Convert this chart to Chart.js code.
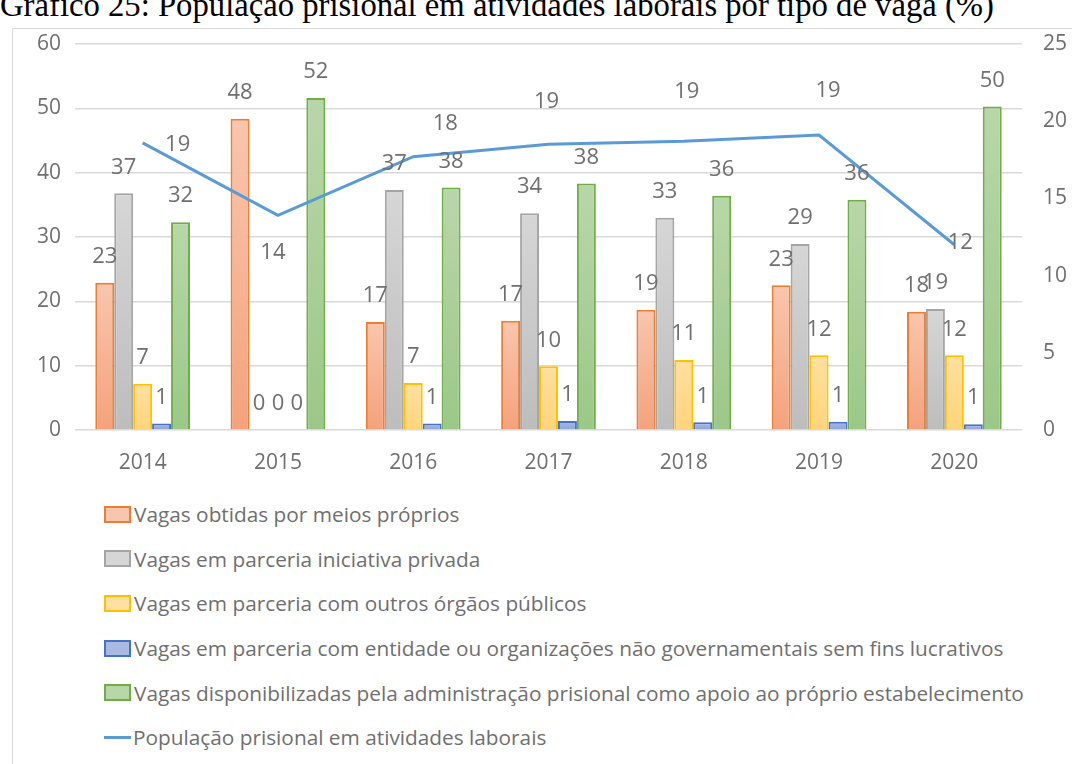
<!DOCTYPE html>
<html lang="pt">
<head>
<meta charset="utf-8">
<title>Gráfico 25</title>
<script src="https://cdn.jsdelivr.net/npm/chart.js@4/dist/chart.umd.min.js"></script>
<style>
    html, body { margin: 0; padding: 0; background: #fff; overflow: hidden; width: 1072px; height: 764px; }
    #title {
        position: absolute; left: 0; top: -11px; white-space: nowrap;
        font: 32.7px 'Liberation Serif', 'Times New Roman', serif; line-height: 32px; color: #000;
    }
    #frame {
        position: absolute; left: 12px; top: 28px; width: 1100px; height: 800px;
        border: 1px solid #d9d9d9; box-sizing: border-box;
    }
    #chart-wrap { position: absolute; left: 0; top: 0; width: 1059px; height: 455px; }
    #legend { position: absolute; left: 91px; top: 463px; font: 20.8px 'Open Sans', sans-serif; color: #6f6f6f; }
    .legend-item { display: flex; align-items: center; height: 44.6px; white-space: nowrap; }
    .legend-box { width: 23px; height: 13px; margin-right: 3px; box-sizing: content-box; }
    .legend-line { width: 27px; height: 3px; margin-right: 2px; }
</style>
</head>
<body>
<div id="title">Gráfico 25: População prisional em atividades laborais por tipo de vaga (%)</div>
<div id="frame">
    <div id="chart-wrap"><canvas id="chart" width="1059" height="455"></canvas></div>
    <div id="legend"></div>
</div>
<script>
// Data
const years = ['2014', '2015', '2016', '2017', '2018', '2019', '2020'];
const meiosProprios = [22.9, 48.4, 16.8, 17.0, 18.7, 22.5, 18.4];
const iniciativaPrivada = [36.8, 0, 37.3, 33.7, 33.0, 28.9, 18.8];
const orgaosPublicos = [7.2, 0, 7.3, 9.9, 10.9, 11.6, 11.6];
const entidadesSemFins = [1.0, 0, 1.0, 1.4, 1.2, 1.3, 0.9];
const administracaoPrisional = [32.3, 51.6, 37.7, 38.3, 36.4, 35.8, 50.3];
const populacaoLaboral = [18.6, 13.9, 17.7, 18.5, 18.7, 19.1, 12.0];
const leftTicks = [0, 10, 20, 30, 40, 50, 60];
const rightTicks = [0, 5, 10, 15, 20, 25];

// Label placement for the line values (pixels from each point)
const lineLabelOffsets = [[35, 2], [-5, 37], [32, -33], [-2, -43], [3, -50], [9, -44], [6, -2]];

const textColor = '#6f6f6f';
const mainFont = "'Open Sans', sans-serif";

// Vertical gradient per bar, light at top like the office style
const barFill = (top, bottom) => (ctx) => {
    const chart = ctx.chart;
    if (!chart.chartArea || ctx.type !== 'data') return bottom;
    const yScale = chart.scales.y;
    const y0 = yScale.getPixelForValue(0);
    const y1 = yScale.getPixelForValue(ctx.raw);
    if (y0 - y1 < 1) return bottom;
    const g = chart.ctx.createLinearGradient(0, y1, 0, y0);
    g.addColorStop(0, top);
    g.addColorStop(1, bottom);
    return g;
};

const barSet = (label, data, top, bottom, border) => ({
    type: 'bar',
    label,
    data,
    yAxisID: 'y',
    backgroundColor: barFill(top, bottom),
    legendFill: top,
    borderColor: border,
    borderWidth: 2,
    borderSkipped: 'bottom',
    categoryPercentage: 0.7,
    barPercentage: 1.0,
    order: 1
});

// Value labels drawn on top of the marks
const valueLabels = {
    id: 'valueLabels',
    afterDatasetsDraw(chart) {
        const ctx = chart.ctx;
        ctx.save();
        ctx.font = '22px ' + mainFont;
        ctx.fillStyle = textColor;
        ctx.textAlign = 'center';
        ctx.textBaseline = 'middle';
        chart.data.datasets.forEach((ds, i) => {
            const meta = chart.getDatasetMeta(i);
            meta.data.forEach((el, j) => {
                const text = String(Math.round(ds.data[j]));
                if (ds.type === 'line') {
                    const [dx, dy] = lineLabelOffsets[j];
                    ctx.fillText(text, el.x + dx, el.y + dy);
                } else {
                    ctx.fillText(text, el.x, el.y - 26);
                }
            });
        });
        ctx.restore();
    }
};

const buildLegend = (chart) => {
    const legend = document.getElementById('legend');
    legend.innerHTML = '';
    chart.data.datasets.forEach((ds) => {
        const item = document.createElement('div');
        item.className = 'legend-item';
        const mark = document.createElement('span');
        if (ds.type === 'line') {
            mark.className = 'legend-line';
            mark.style.background = ds.borderColor;
        } else {
            mark.className = 'legend-box';
            mark.style.background = ds.legendFill;
            mark.style.border = '2px solid ' + ds.borderColor;
        }
        const label = document.createElement('span');
        label.textContent = ds.label;
        item.appendChild(mark);
        item.appendChild(label);
        legend.appendChild(item);
    });
};

// Fixed axis sizes so the plot area sits where the original one does
const fixVertical = (width) => (s) => {
    s.width = width;
    s.paddingTop = 0;
    s.paddingBottom = 0;
};

const initializeChart = () => {
    const ctx = document.getElementById('chart').getContext('2d');
    const chart = new Chart(ctx, {
        data: {
            labels: years,
            datasets: [
                barSet('Vagas obtidas por meios próprios', meiosProprios, '#f8c6ae', '#f4a27c', '#ed7d31'),
                barSet('Vagas em parceria iniciativa privada', iniciativaPrivada, '#d6d6d6', '#bdbdbd', '#a5a5a5'),
                barSet('Vagas em parceria com outros órgãos públicos', orgaosPublicos, '#ffe0a0', '#ffd47c', '#ffc000'),
                barSet('Vagas em parceria com entidade ou organizações não governamentais sem fins lucrativos', entidadesSemFins, '#a9b9e2', '#8ea3d8', '#4472c4'),
                barSet('Vagas disponibilizadas pela administração prisional como apoio ao próprio estabelecimento', administracaoPrisional, '#b8d7a9', '#9bc888', '#70ad47'),
                {
                    type: 'line',
                    label: 'População prisional em atividades laborais',
                    data: populacaoLaboral,
                    yAxisID: 'y1',
                    borderColor: '#5b9bd5',
                    borderWidth: 3,
                    pointRadius: 0,
                    tension: 0,
                    fill: false,
                    order: 0
                }
            ]
        },
        options: {
            responsive: false,
            animation: false,
            layout: { padding: { top: 15, left: 0, right: 0, bottom: 0 } },
            plugins: {
                legend: { display: false },
                tooltip: { enabled: false },
                title: { display: false }
            },
            scales: {
                x: {
                    offset: true,
                    grid: { display: false },
                    border: { display: false },
                    ticks: { color: textColor, font: { family: mainFont, size: 21 }, padding: 12 },
                    afterFit: (s) => { s.height = 54; }
                },
                y: {
                    position: 'left',
                    min: 0,
                    max: 60,
                    afterBuildTicks: (s) => { s.ticks = leftTicks.map((v) => ({ value: v })); },
                    grid: { color: '#d9d9d9', lineWidth: 1.5, drawTicks: false },
                    border: { display: false },
                    ticks: { color: textColor, font: { family: mainFont, size: 21 }, padding: 14 },
                    afterFit: fixVertical(62)
                },
                y1: {
                    position: 'right',
                    min: 0,
                    max: 25,
                    afterBuildTicks: (s) => { s.ticks = rightTicks.map((v) => ({ value: v })); },
                    grid: { display: false },
                    border: { display: false },
                    ticks: { color: textColor, font: { family: mainFont, size: 21 }, padding: 13 },
                    afterFit: fixVertical(50)
                }
            }
        },
        plugins: [valueLabels]
    });
    buildLegend(chart);
};

document.addEventListener('DOMContentLoaded', initializeChart);
</script>
</body>
</html>
